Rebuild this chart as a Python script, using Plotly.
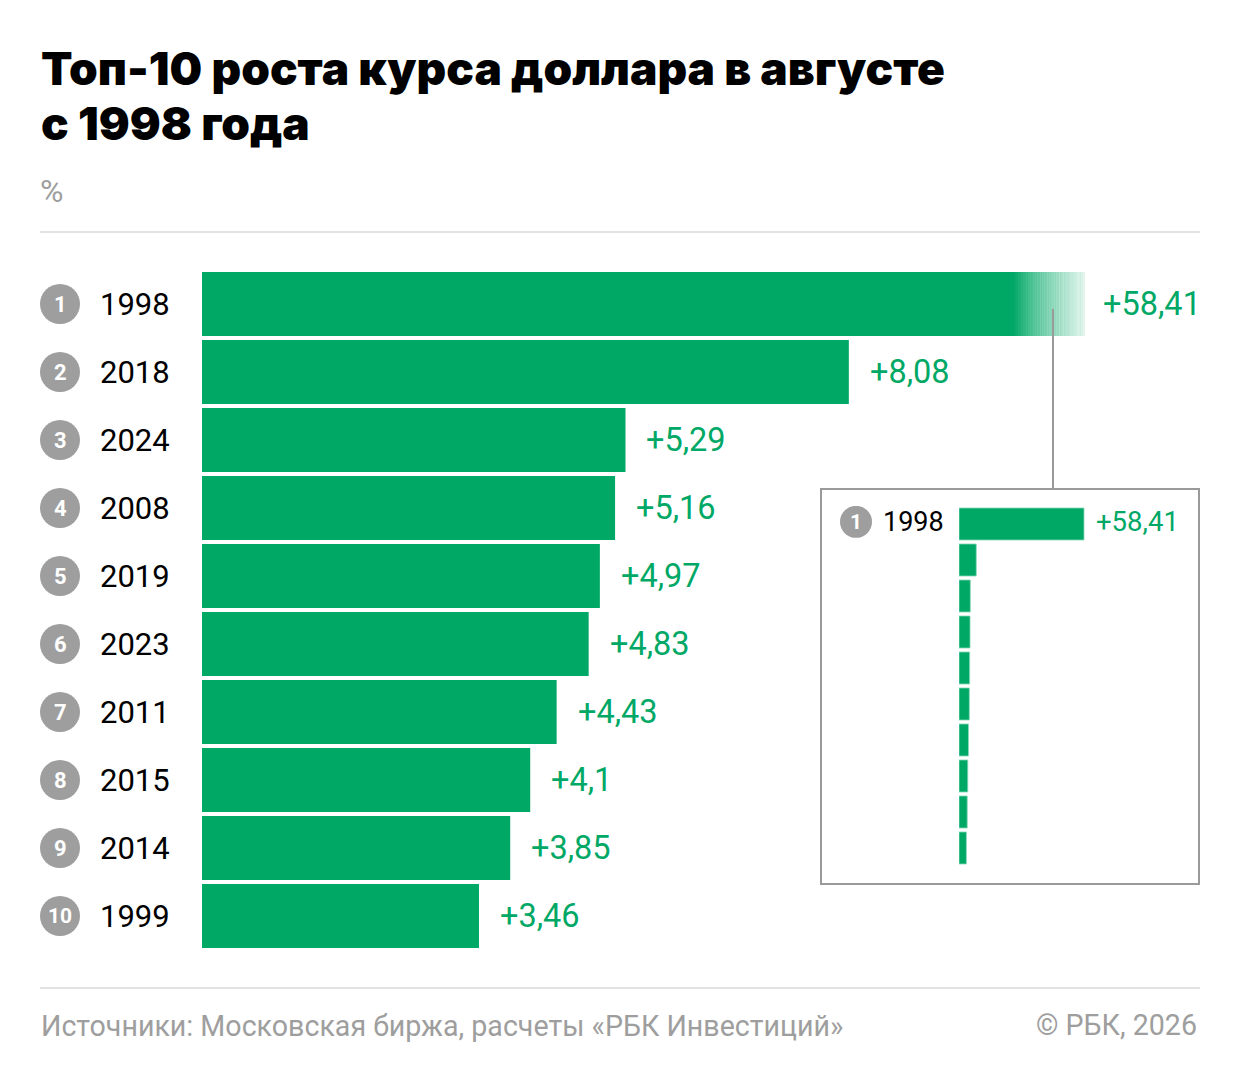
import plotly.graph_objects as go

# ---- data ----
ranks = [1, 2, 3, 4, 5, 6, 7, 8, 9, 10]
years = ["1998", "2018", "2024", "2008", "2019", "2023", "2011", "2015", "2014", "1999"]
values = [58.41, 8.08, 5.29, 5.16, 4.97, 4.83, 4.43, 4.1, 3.85, 3.46]
value_labels = ["+58,41", "+8,08", "+5,29", "+5,16", "+4,97", "+4,83", "+4,43", "+4,1", "+3,85", "+3,46"]

title_lines = ["Топ-10 роста курса доллара в августе", "с 1998 года"]
unit_label = "%"
source_text = "Источники: Московская биржа, расчеты «РБК Инвестиций»"
copyright_text = "© РБК, 2026"

# ---- style ----
W, H = 1240, 1084
GREEN = "#00A866"
GREY = "#9E9E9E"
LINE = "#E3E3E3"
FONT = "Roboto"
XMAX_MAIN = 11.03      # main axis is cut (bar 1998 is broken)
XMAX_INSET = 60


def px(x):
    return x / W


def py(y):
    return 1 - y / H


n = len(years)
fig = go.Figure()

fig.add_trace(go.Bar(
    x=values, y=years, orientation="h",
    marker=dict(color=GREEN, line=dict(width=0)),
    xaxis="x", yaxis="y", hoverinfo="skip", showlegend=False,
))
fig.add_trace(go.Bar(
    x=values, y=years, orientation="h",
    marker=dict(color=GREEN, line=dict(width=0.8, color="#8ED8BB")),
    xaxis="x2", yaxis="y2", hoverinfo="skip", showlegend=False,
))

annotations = []
shapes = []

# title
for line_text, yy in zip(title_lines, (68, 123)):
    annotations.append(dict(text=line_text, xref="paper", yref="paper", x=px(39), y=py(yy),
                            xanchor="left", yanchor="middle", showarrow=False,
                            font=dict(family="Inter", size=46, color="#000000", weight=900)))
annotations.append(dict(text=unit_label, xref="paper", yref="paper", x=px(38), y=py(191),
                        xanchor="left", yanchor="middle", showarrow=False,
                        font=dict(family=FONT, size=32, color=GREY)))
annotations.append(dict(text=source_text, xref="paper", yref="paper", x=px(39), y=py(1026),
                        xanchor="left", yanchor="middle", showarrow=False,
                        font=dict(family=FONT, size=28.6, color=GREY)))
annotations.append(dict(text=copyright_text, xref="paper", yref="paper", x=px(1199), y=py(1025),
                        xanchor="right", yanchor="middle", showarrow=False,
                        font=dict(family=FONT, size=28.6, color=GREY)))

# dividers
for yy in (232, 988):
    shapes.append(dict(type="line", xref="paper", yref="paper", x0=px(40), x1=px(1200),
                       y0=py(yy), y1=py(yy), line=dict(color=LINE, width=2)))

# row labels and value labels (main)
for i, (r, yr, v, lab) in enumerate(zip(ranks, years, values, value_labels)):
    shapes.append(dict(type="circle", xref="paper", yref="y", x0=px(40), x1=px(80),
                       y0=i - 20 / 68, y1=i + 20 / 68, fillcolor=GREY, line=dict(width=0), layer="above"))
    annotations.append(dict(text=str(r), xref="paper", yref="y", x=px(60), y=i,
                            xanchor="center", yanchor="middle", showarrow=False,
                            font=dict(family=FONT, size=22 if r < 10 else 21, color="white", weight=700)))
    annotations.append(dict(text=yr, xref="paper", yref="y", x=px(98), y=i,
                            xanchor="left", yanchor="middle", showarrow=False,
                            font=dict(family=FONT, size=31, color="#000000")))
    annotations.append(dict(text=lab, xref="x", yref="y", x=min(v, XMAX_MAIN), y=i,
                            xshift=19 if v <= XMAX_MAIN else 16,
                            xanchor="left", yanchor="middle", showarrow=False,
                            font=dict(family=FONT, size=32.5, color=GREEN)))

# fade of the broken bar
N = 30
f0, f1 = 1014, 1085
for k in range(N):
    a = ((k + 0.5) / N) ** 0.85 * 0.9
    shapes.append(dict(type="rect", xref="paper", yref="y",
                       x0=px(f0 + (f1 - f0) * k / N), x1=px(f0 + (f1 - f0) * (k + 1) / N + 0.3),
                       y0=-0.48, y1=0.48, fillcolor="white", opacity=a, line=dict(width=0), layer="above"))

# inset frame and connector
shapes.append(dict(type="rect", xref="paper", yref="paper", x0=px(821), x1=px(1199),
                   y0=py(489), y1=py(884), line=dict(color="#9A9A9A", width=2), fillcolor="rgba(0,0,0,0)"))
shapes.append(dict(type="line", xref="paper", yref="paper", x0=px(1053), x1=px(1053),
                   y0=py(309), y1=py(489), line=dict(color="#9A9A9A", width=2), layer="above"))

# inset labels for the first row
shapes.append(dict(type="circle", xref="paper", yref="y2", x0=px(840), x1=px(872),
                   y0=-0.06 - 16 / 36, y1=-0.06 + 16 / 36, fillcolor=GREY, line=dict(width=0)))
annotations.append(dict(text=str(ranks[0]), xref="paper", yref="y2", x=px(856), y=-0.06,
                        xanchor="center", yanchor="middle", showarrow=False,
                        font=dict(family=FONT, size=21, color="white", weight=700)))
annotations.append(dict(text=years[0], xref="paper", yref="y2", x=px(881), y=-0.06,
                        xanchor="left", yanchor="middle", showarrow=False,
                        font=dict(family=FONT, size=27, color="#000000")))
annotations.append(dict(text=value_labels[0], xref="x2", yref="y2", x=values[0], y=-0.06, xshift=10,
                        xanchor="left", yanchor="middle", showarrow=False,
                        font=dict(family=FONT, size=27.5, color=GREEN)))

main_rows_top, main_rows_bottom = 270, 950
inset_rows_top, inset_rows_bottom = 506, 866
inset_x0 = 959
inset_ppu = 125 / 58.41

fig.update_layout(
    width=W, height=H,
    margin=dict(l=0, r=0, t=0, b=0),
    paper_bgcolor="white", plot_bgcolor="rgba(0,0,0,0)",
    bargap=0.06,
    xaxis=dict(domain=[px(202), px(1085)], range=[0, XMAX_MAIN], visible=False, fixedrange=True),
    yaxis=dict(domain=[py(main_rows_bottom), py(main_rows_top)], range=[n - 0.5, -0.5],
               type="category", visible=False, fixedrange=True),
    xaxis2=dict(domain=[px(inset_x0), px(inset_x0 + inset_ppu * XMAX_INSET)], range=[0, XMAX_INSET],
                visible=False, anchor="y2", fixedrange=True),
    yaxis2=dict(domain=[py(inset_rows_bottom), py(inset_rows_top)], range=[n - 0.5, -0.5],
                type="category", visible=False, anchor="x2", fixedrange=True),
    annotations=annotations,
    shapes=shapes,
)
fig.update_traces(width=0.94, selector=dict(xaxis="x"))
fig.update_traces(width=0.89, selector=dict(xaxis="x2"))

fig.write_html("out.html", config={"displayModeBar": False},
               post_script="document.body.style.margin='0';")
